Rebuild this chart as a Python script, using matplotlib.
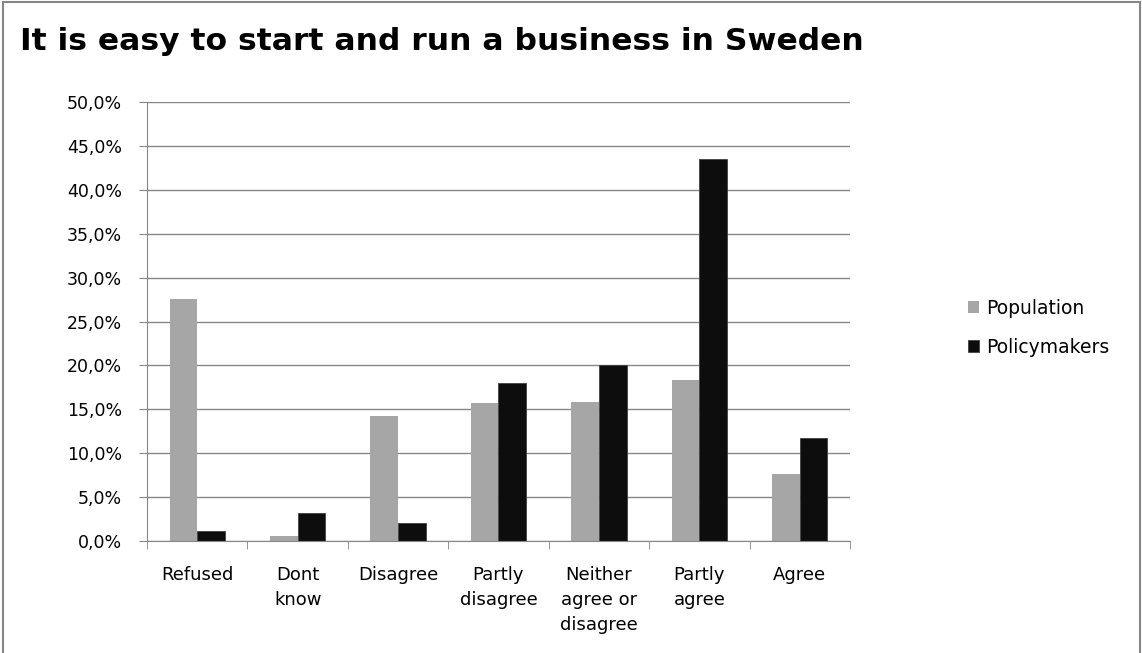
import matplotlib.pyplot as plt
import numpy as np
from matplotlib.patches import Rectangle
from matplotlib.ticker import FuncFormatter, MultipleLocator

categories = ['Refused', 'Dont\nknow', 'Disagree', 'Partly\ndisagree',
              'Neither\nagree or\ndisagree', 'Partly\nagree', 'Agree']
population = [27.6, 0.6, 14.2, 15.7, 15.8, 18.3, 7.6]
policymakers = [1.1, 3.2, 2.1, 18.0, 20.1, 43.5, 11.7]

plt.rcParams['font.family'] = ['DejaVu Sans']

fig = plt.figure(figsize=(11.42, 6.53), dpi=100)
ax = fig.add_axes([147/1142, 1 - 541/653, (850-147)/1142, (541-102)/653])

x = np.arange(len(categories))
w = 0.275
ax.bar(x - w/2, population, w, color='#a6a6a6', label='Population')
ax.bar(x + w/2, policymakers, w, color='#0d0d0d', edgecolor='#404040',
       linewidth=0.6, label='Policymakers')

ax.set_xlim(-0.5, len(categories) - 0.5)
ax.set_ylim(0, 50)
ax.yaxis.set_major_locator(MultipleLocator(5))
ax.yaxis.set_major_formatter(FuncFormatter(lambda v, p: f'{v:.1f}%'.replace('.', ',')))
ax.grid(axis='y', color='#868686', linewidth=1)
ax.set_axisbelow(True)

ax.set_xticks(x)
ax.set_xticklabels(categories, fontsize=13, linespacing=1.5, va='top')
ax.set_xticks(np.arange(len(categories) + 1) - 0.5, minor=True)
ax.tick_params(axis='x', which='major', length=0, pad=18)
ax.tick_params(axis='x', which='minor', length=6, color='#868686')
ax.tick_params(axis='y', length=6, color='#868686', labelsize=12.5, pad=12)

for s in ['top', 'right']:
    ax.spines[s].set_visible(False)
for s in ['left', 'bottom']:
    ax.spines[s].set_color('#868686')

fig.legend(loc='upper left', bbox_to_anchor=(951/1142, 1 - 282/653),
           frameon=False, fontsize=13.5, handlelength=0.6, handleheight=0.6,
           handletextpad=0.4, labelspacing=1.05)

fig.text(20/1142, 1 - 41/653, 'It is easy to start and run a business in Sweden',
         fontsize=22.6, fontweight='bold', va='center', ha='left')

fig.patches.append(Rectangle((3/1142, -0.01), 1137/1142, 1.01 - 1.5/653,
                             transform=fig.transFigure,
                             fill=False, edgecolor='#868686', linewidth=1.5))

fig.savefig('out.png', dpi=100)
